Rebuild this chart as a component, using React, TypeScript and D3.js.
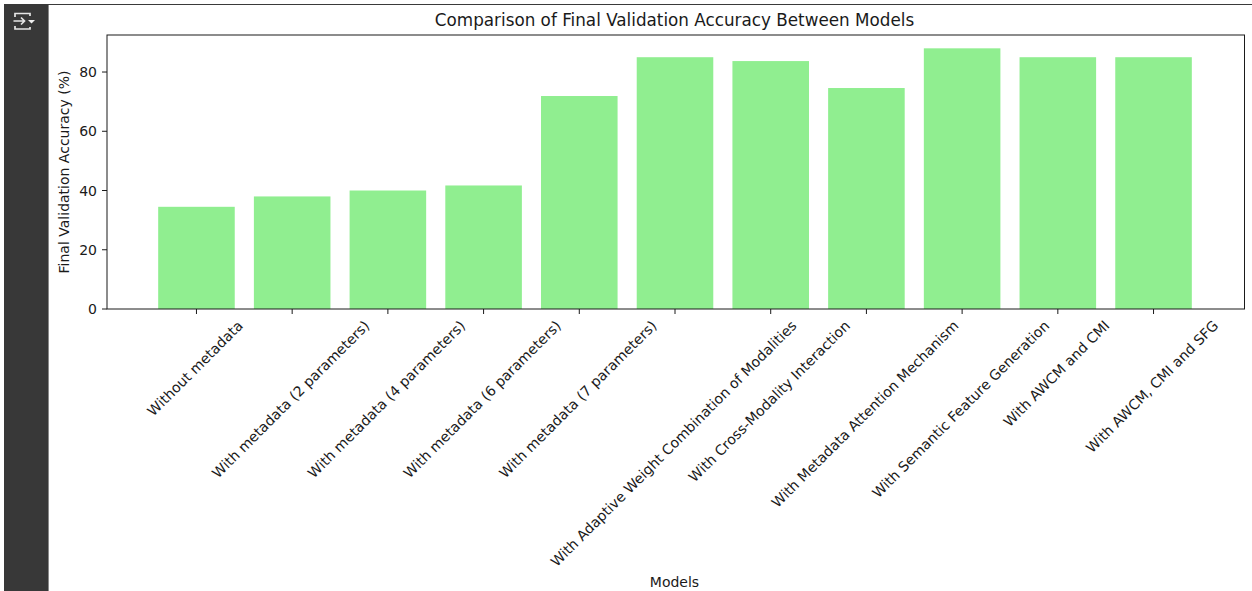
import React, { useEffect, useRef } from "react";
import * as d3 from "d3";

const categories = [
  "Without metadata",
  "With metadata (2 parameters)",
  "With metadata (4 parameters)",
  "With metadata (6 parameters)",
  "With metadata (7 parameters)",
  "With Adaptive Weight Combination of Modalities",
  "With Cross-Modality Interaction",
  "With Metadata Attention Mechanism",
  "With Semantic Feature Generation",
  "With AWCM and CMI",
  "With AWCM, CMI and SFG",
];
const accuracy = [34.5, 38, 40, 41.7, 71.9, 85, 83.7, 74.6, 88, 85, 85];
const yTicks = [0, 20, 40, 60, 80];

const W = 1252, H = 591;
const L = 107, R = 1244.5, T = 35, B = 309;
const FONT = "'DejaVu Sans', sans-serif";
const INK = "#1a1a1a";
const TICK_SIZE = 14;
const CAT_SIZE = 14.1;

export default function App() {
  const ref = useRef<SVGSVGElement | null>(null);
  useEffect(() => {
    const svg = d3.select(ref.current!);
    svg.selectAll("*").remove();
    svg.append("rect").attr("width", W).attr("height", H).attr("fill", "#fff");
    // notebook chrome
    svg.append("rect").attr("x", 4).attr("y", 4).attr("width", 44).attr("height", H - 4).attr("fill", "#383838");
    svg.append("rect").attr("x", 48).attr("y", 4).attr("width", 1).attr("height", H - 4).attr("fill", "#8a8a8a");
    svg.append("rect").attr("x", 48).attr("y", 4).attr("width", W - 48).attr("height", 1).attr("fill", "#3a3a3a");
    const icon = svg.append("g").attr("fill", "none").attr("stroke", "#e6e6e6").attr("stroke-width", 1.7);
    icon.append("path").attr("d", "M15 17V13.5H30V16 M15 26V29H30V27");
    icon.append("path").attr("d", "M13.5 21H24 M21 17.5L24.5 21L21 24.5");
    svg.append("path").attr("d", "M28 20H35L31.5 23.5Z").attr("fill", "#f0f0f0");

    const x = d3.scaleBand<string>().domain(categories).range([106.5, 1243.5]).paddingInner(0.2).paddingOuter(0.54);
    const y = d3.scaleLinear().domain([0, 92.5]).range([B, T]);

    svg.append("g").selectAll("rect").data(categories).join("rect")
      .attr("x", (c) => x(c)!)
      .attr("width", x.bandwidth())
      .attr("y", (_, i) => y(accuracy[i]))
      .attr("height", (_, i) => B - y(accuracy[i]))
      .attr("fill", "#90ee90");

    svg.append("rect").attr("x", L).attr("y", T).attr("width", R - L).attr("height", B - T)
      .attr("fill", "none").attr("stroke", INK).attr("stroke-width", 1);

    const yAxis = svg.append("g");
    yTicks.forEach((t) => {
      yAxis.append("line").attr("x1", L - 5).attr("x2", L).attr("y1", y(t)).attr("y2", y(t)).attr("stroke", INK);
      yAxis.append("text").attr("x", L - 10).attr("y", y(t)).attr("dy", "0.36em").attr("text-anchor", "end")
        .attr("font-family", FONT).attr("font-size", TICK_SIZE).attr("fill", INK).text(t);
    });

    categories.forEach((c) => {
      const cx = x(c)! + x.bandwidth() / 2;
      svg.append("line").attr("x1", cx).attr("x2", cx).attr("y1", B).attr("y2", B + 5).attr("stroke", INK);
      const t = svg.append("text").attr("text-anchor", "middle").attr("dy", "0.36em")
        .attr("font-family", FONT).attr("font-size", CAT_SIZE).attr("fill", INK).text(c);
      const w = (t.node() as SVGTextElement).getComputedTextLength();
      const half = ((w + CAT_SIZE) * Math.SQRT1_2) / 2;
      t.attr("transform", `translate(${cx - 1.5},${B + 9 + half}) rotate(-45)`);
    });

    svg.append("text").attr("x", 674.5).attr("y", 26).attr("text-anchor", "middle")
      .attr("font-family", FONT).attr("font-size", 16.8).attr("fill", INK)
      .text("Comparison of Final Validation Accuracy Between Models");
    svg.append("text").attr("x", 674.5).attr("y", 587).attr("text-anchor", "middle")
      .attr("font-family", FONT).attr("font-size", TICK_SIZE).attr("fill", INK).text("Models");
    svg.append("text").attr("transform", `translate(69,${(T + B) / 2}) rotate(-90)`).attr("text-anchor", "middle")
      .attr("font-family", FONT).attr("font-size", TICK_SIZE).attr("fill", INK).text("Final Validation Accuracy (%)");
  }, []);
  return <svg ref={ref} width={W} height={H} style={{ position: "fixed", left: 0, top: 0, display: "block" }} />;
}
